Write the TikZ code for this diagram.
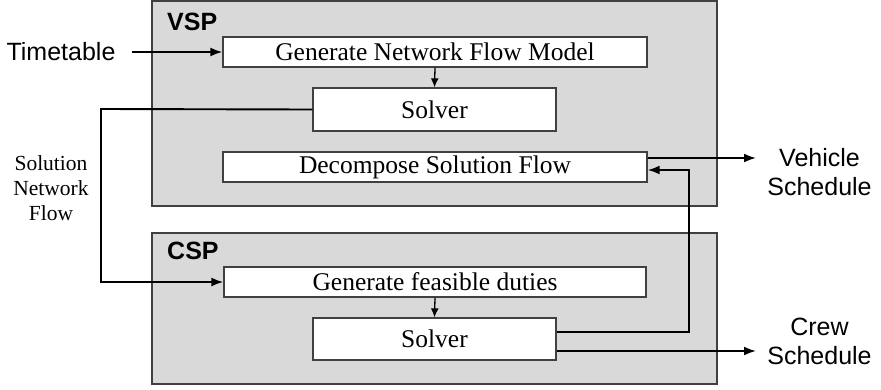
\documentclass[tikz,border=0pt]{standalone}
\usepackage{fontspec}
\setmainfont{Liberation Serif}
\setsansfont{Liberation Sans}
\usetikzlibrary{arrows.meta}
\definecolor{panelgray}{HTML}{D9D9D9}
\definecolor{edgegray}{HTML}{404040}
\tikzset{
  panel/.style={draw=edgegray, fill=panelgray, line width=1.3pt, inner sep=0pt, rectangle},
  procbox/.style={draw=edgegray, fill=white, line width=1.3pt, inner sep=0pt, rectangle,
    font=\fontsize{25.5}{30}\selectfont},
  paneltitle/.style={font=\sffamily\bfseries\fontsize{25}{28}\selectfont, inner sep=0pt, anchor=west},
  outlabel/.style={font=\sffamily\fontsize{25}{29}\selectfont, inner sep=0pt, align=center},
  sidelabel/.style={font=\fontsize{21.5}{25}\selectfont, inner sep=0pt, align=center},
  flow/.style={line width=1.9pt, -{Latex[length=12pt,width=9pt]}},
  smallflow/.style={line width=1.3pt, -{Latex[length=9pt,width=8pt]}},
}
\begin{document}
\begin{tikzpicture}[x=1pt,y={(0pt,-1pt)}]
\useasboundingbox (0,0) rectangle (881,389);
% panels
\node[panel, minimum width=565pt, minimum height=205pt] (vsp) at (434.5,103.5) {};
\node[panel, minimum width=565pt, minimum height=151pt] (csp) at (434.5,308.5) {};
\node[paneltitle] (vsptitle) at (167,22) {VSP};
\node[paneltitle] (csptitle) at (167,251) {CSP};
% process boxes
\node[procbox, minimum width=424pt, minimum height=30pt] (gnfm) at (435,52) {Generate Network Flow Model};
\node[procbox, minimum width=243pt, minimum height=43pt] (solv) at (434.5,109.5) {Solver};
\node[procbox, minimum width=424pt, minimum height=30pt] (dec) at (435,167) {Decompose Solution Flow};
\node[procbox, minimum width=422pt, minimum height=30pt] (gfd) at (435,282) {Generate feasible duties};
\node[procbox, minimum width=243pt, minimum height=42pt] (solc) at (434.5,339) {Solver};
% outside labels
\node[outlabel] (tt) at (61,52) {Timetable};
\node[outlabel] (vs) at (819.5,172.5) {Vehicle\\Schedule};
\node[outlabel] (cs) at (819.5,341) {Crew\\Schedule};
\node[sidelabel] (snf) at (51,188) {Solution\\Network\\Flow};
% helper coordinates
\coordinate (ttstart) at (132,52);
\coordinate (loopL1) at (101,109);
\coordinate (loopL2) at (101,282);
\coordinate (loopR1) at (689,332);
\coordinate (loopR2) at (689,170);
\coordinate (vsend) at (756,158);
\coordinate (csend) at (756,351);
% connectors
\draw[flow] (ttstart) -- (gnfm.west);
\draw[smallflow] (gnfm.south) -- (solv.north);
\draw[smallflow] (gfd.south) -- (solc.north);
\draw[flow] (solv.west) -- (loopL1) -- (loopL2) -- (gfd.west);
\draw[flow] (solc.east |- loopR1) -- (loopR1) -- (loopR2) -- (dec.east |- loopR2);
\draw[flow] (dec.east |- vsend) -- (vsend);
\draw[flow] (solc.east |- csend) -- (csend);
\end{tikzpicture}
\end{document}
